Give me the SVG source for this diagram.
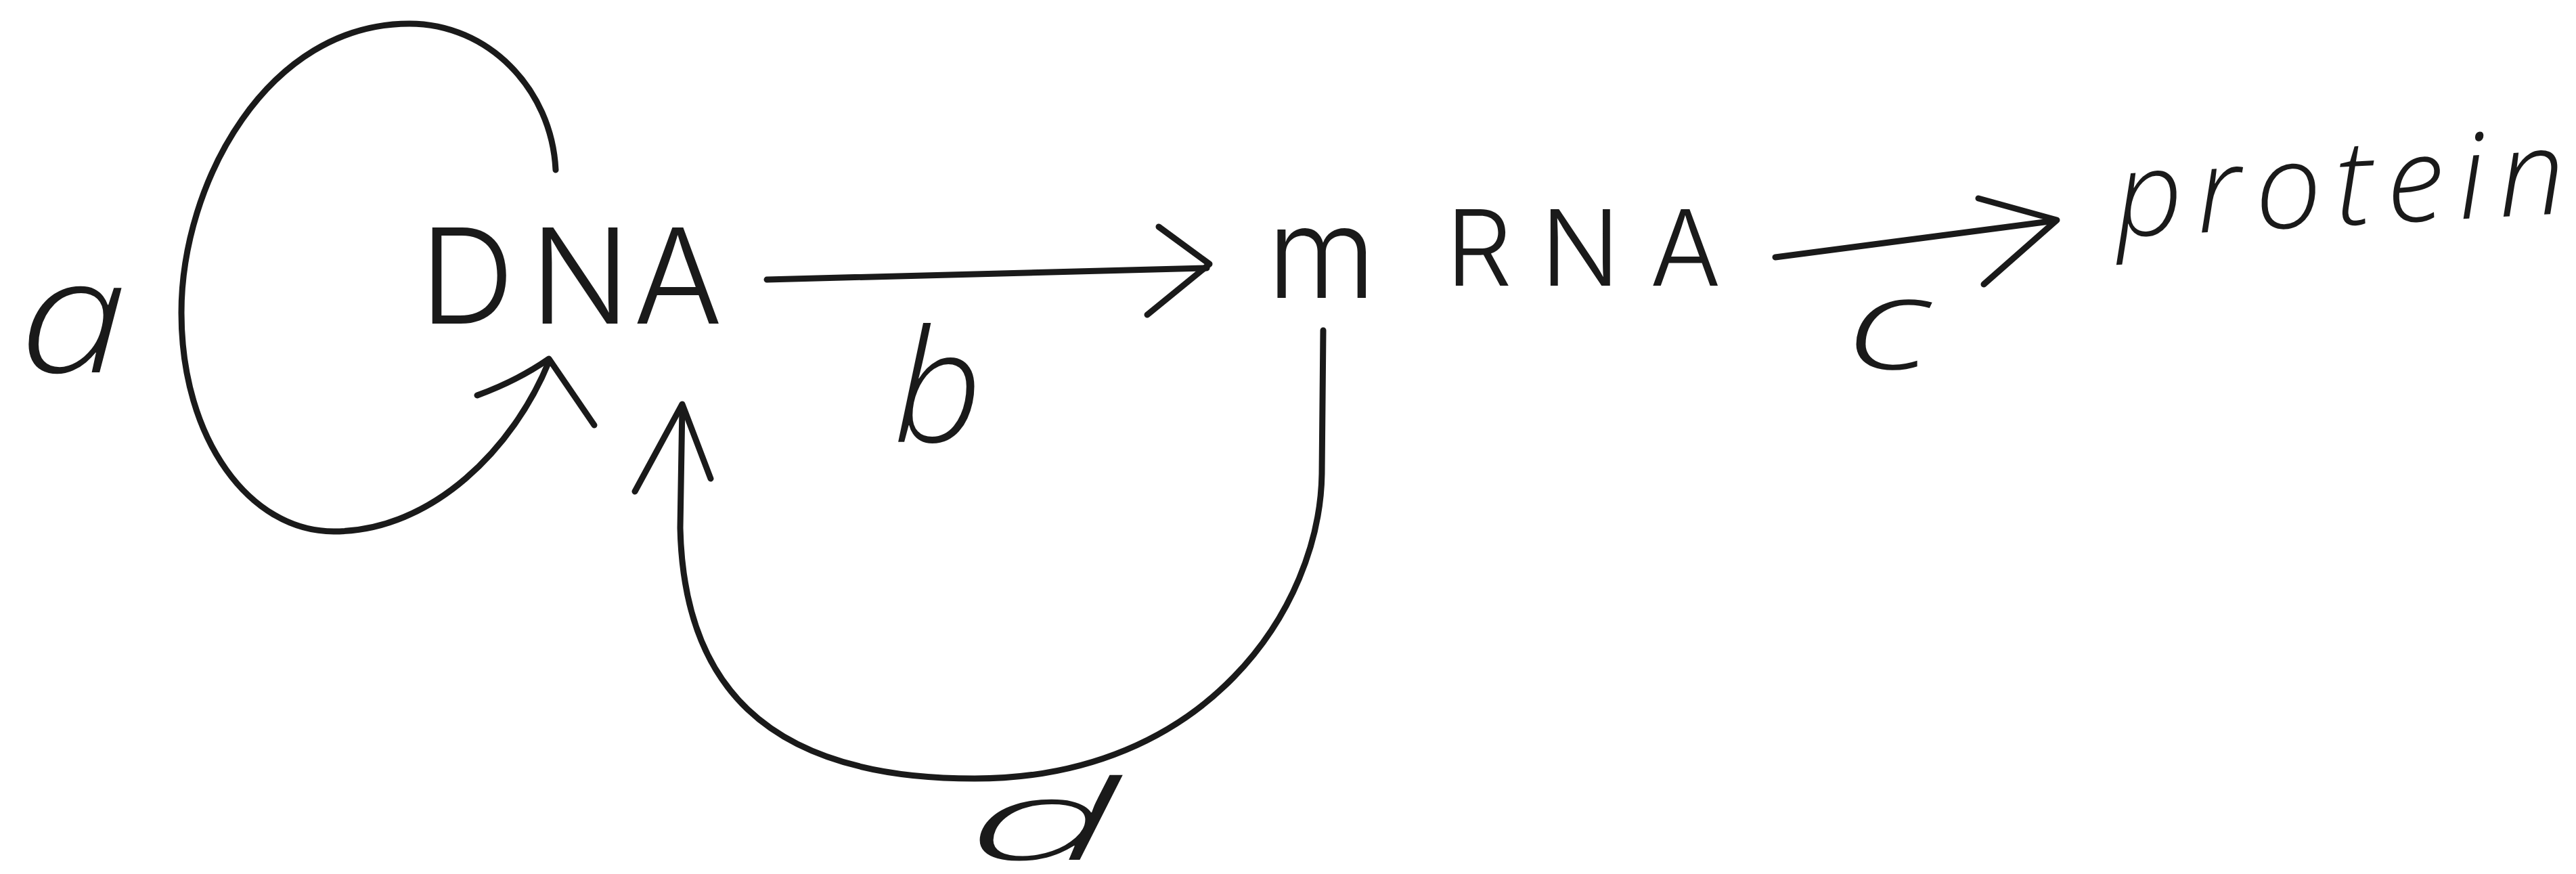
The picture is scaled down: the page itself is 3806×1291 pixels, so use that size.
<svg xmlns="http://www.w3.org/2000/svg" width="3806" height="1291" viewBox="0 0 3806 1291">
<style>
.bg{fill:#ffffff}
.edge{fill:none;stroke:#1a1a1a;stroke-width:9;stroke-linecap:round;stroke-linejoin:round}
.node{font-family:Inter,"DejaVu Sans",sans-serif;font-weight:300;fill:#1a1a1a}
.lbl{font-family:"Open Sans","DejaVu Sans",sans-serif;font-style:italic;font-weight:300;fill:#1a1a1a}
</style>
<rect class="bg" x="0" y="0" width="3806" height="1291"/>
<g id="connectors">
  <g id="edge-a">
    <path class="edge" d="M 821 251 C 815 130, 720 35, 605 35 C 395 35, 268 270, 268 462 C 268 650, 370 785, 493 785 C 640 785, 760 660, 811 534"/>
    <path class="edge" d="M 705 584 Q 765 562 811 530 L 878 628"/>
  </g>
  <g id="edge-b">
    <path class="edge" d="M 1133 413 L 1783 396"/>
    <path class="edge" d="M 1712 335 L 1787 390 L 1695 465"/>
  </g>
  <g id="edge-c">
    <path class="edge" d="M 2623 380 L 3036 326"/>
    <path class="edge" d="M 2923 293 L 3039 325 L 2931 420"/>
  </g>
  <g id="edge-d">
    <path class="edge" d="M 1955 488 L 1953 700 C 1950 900, 1780 1150, 1440 1150 C 1120 1150, 1010 1000, 1005 780 L 1008 600"/>
    <path class="edge" d="M 938 726 L 1008 597 L 1050 707"/>
  </g>
</g>
<g id="node-dna">
  <text class="node" x="620 783 936" y="478" font-size="195">DNA</text>
</g>
<g id="node-mrna">
  <text class="node"><tspan x="1872" y="440" font-size="185">m</tspan><tspan x="2136 2276 2438" y="422" font-size="155">RNA</tspan></text>
</g>
<g id="node-protein">
  <text class="lbl" x="3128" y="350" font-size="175" textLength="665" lengthAdjust="spacing" transform="rotate(-3 3128 350)">protein</text>
</g>
<g id="labels">
  <text class="lbl" x="28" y="550" font-size="235" textLength="160" lengthAdjust="spacingAndGlyphs">a</text>
  <text class="lbl" x="1320" y="653" font-size="230">b</text>
  <text class="lbl" x="2728" y="545" font-size="190" textLength="125" lengthAdjust="spacingAndGlyphs">c</text>
  <text class="lbl" x="1428" y="1270" font-size="165" textLength="225" lengthAdjust="spacingAndGlyphs">d</text>
</g>
</svg>
